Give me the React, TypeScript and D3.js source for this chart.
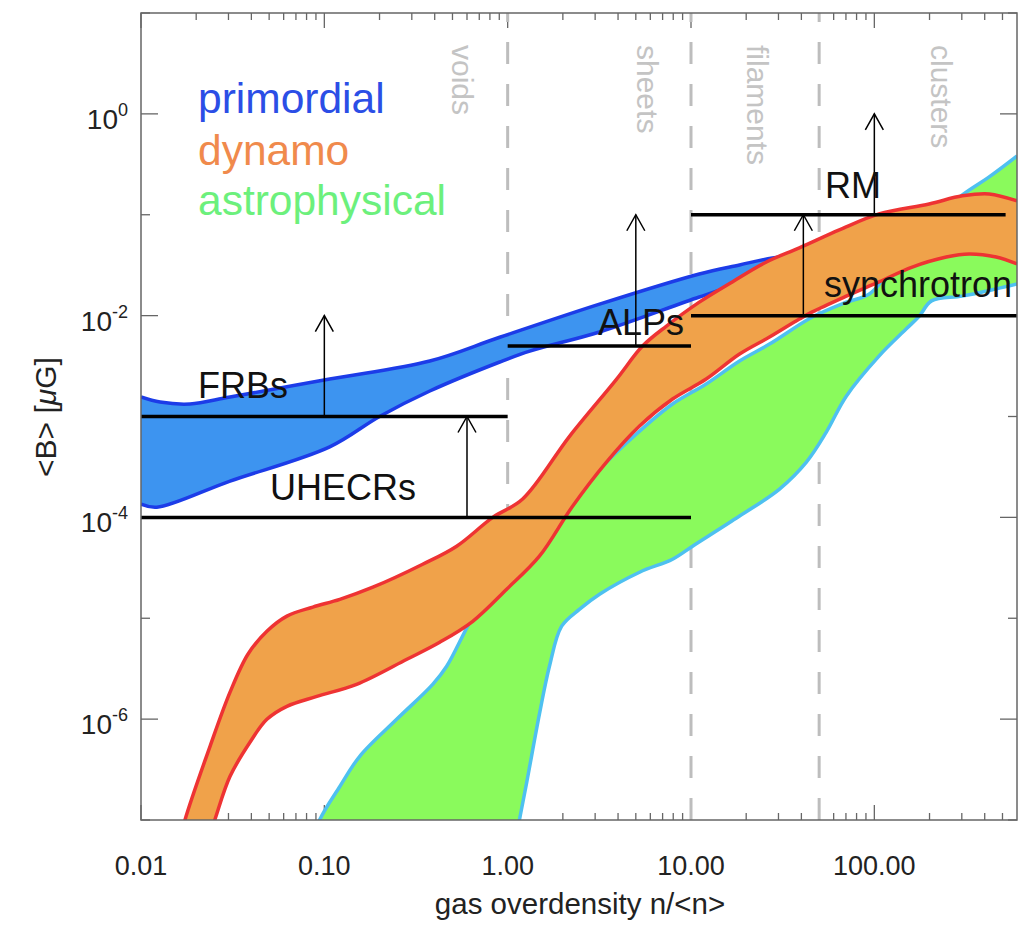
import React from 'react';
import * as d3 from 'd3';

// ---------- data ----------
const xDomain: [number, number] = [0.01, 600];
const yDomain: [number, number] = [1e-7, 10];
const xTickValues = [0.01, 0.1, 1, 10, 100];
const xTickLabels = ['0.01', '0.10', '1.00', '10.00', '100.00'];
const yMajorExps = [0, -2, -4, -6];
const yMinorExps = [1, -1, -3, -5, -7];

const primordialUpperX = [0.01, 0.0127, 0.0185, 0.0306, 0.107, 0.376, 0.905, 3.17, 11.1, 18.4, 27.8, 39];
const primordialUpperY = [1.56e-3, 1.39e-3, 1.33e-3, 1.56e-3, 2.35e-3, 3.55e-3, 6.1e-3, 0.013, 0.0259, 0.0318, 0.0373, 0.0399];
const primordialLowerX = [0.01, 0.0122, 0.0306, 0.107, 0.2, 0.376, 0.905, 1.32, 3.17, 11.1, 18.4, 39];
const primordialLowerY = [1.35e-4, 1.26e-4, 2.29e-4, 5.0e-4, 1.0e-3, 1.79e-3, 3.47e-3, 4.45e-3, 6.88e-3, 0.0153, 0.0206, 0.029];

const dynamoUpperX = [0.0159, 0.0174, 0.0238, 0.0306, 0.0383, 0.0486, 0.0625, 0.0866, 0.1215, 0.184, 0.344, 0.527, 0.829, 1.207, 2.18, 3.93, 5.44, 7.35, 11.1, 16.8, 25.8, 39.0, 64.4, 106, 199, 302, 423, 601];
const dynamoUpperY = [5.1e-8, 1.01e-7, 5.37e-7, 1.85e-6, 4.4e-6, 7.43e-6, 1.05e-5, 1.29e-5, 1.54e-5, 2.03e-5, 3.43e-5, 5.18e-5, 1.0e-4, 1.52e-4, 6.4e-4, 2.35e-3, 4.99e-3, 7.88e-3, 0.0136, 0.0216, 0.034, 0.0469, 0.0707, 0.102, 0.128, 0.154, 0.161, 0.137];
const dynamoLowerX = [0.0223, 0.0253, 0.0306, 0.0393, 0.0486, 0.0625, 0.091, 0.15, 0.282, 0.426, 0.645, 0.988, 1.49, 2.26, 3.46, 5.24, 7.93, 12.1, 18.4, 26.8, 39.0, 45.9, 70.3, 106, 161, 247, 329, 462, 601];
const dynamoLowerY = [5.1e-8, 1.01e-7, 2.71e-7, 5.89e-7, 9.95e-7, 1.34e-6, 1.68e-6, 2.21e-6, 3.92e-6, 5.78e-6, 9.33e-6, 1.94e-5, 4.12e-5, 1.29e-4, 3.53e-4, 8.04e-4, 1.49e-3, 2.35e-3, 4.16e-3, 6.13e-3, 9.25e-3, 0.0109, 0.0156, 0.0216, 0.0303, 0.0381, 0.0409, 0.0381, 0.0325];

const astroUpperX = [0.0834, 0.0945, 0.1215, 0.156, 0.248, 0.39, 0.465, 0.621, 0.798, 1.49, 3.17, 5.24, 7.93, 12.1, 18.4, 26.8, 45.9, 70.3, 93.9, 137, 199, 302, 423, 601];
const astroUpperY = [5.1e-8, 1.01e-7, 2.15e-7, 4.28e-7, 9.95e-7, 2.21e-6, 3.34e-6, 9.12e-6, 1.94e-5, 6.08e-5, 3.01e-4, 7.16e-4, 1.33e-3, 2.1e-3, 3.55e-3, 5.22e-3, 9.69e-3, 0.0136, 0.0164, 0.0365, 0.081, 0.157, 0.237, 0.383];
const astroLowerX = [1.078, 1.16, 1.27, 1.49, 1.69, 1.97, 2.47, 3.17, 5.24, 7.93, 10.2, 18.4, 30.4, 42.6, 54.7, 70.3, 106, 149, 176, 205, 302, 462, 601];
const astroLowerY = [5.1e-8, 1.01e-7, 2.36e-7, 1.12e-6, 3.34e-6, 8.34e-6, 1.23e-5, 1.73e-5, 2.86e-5, 3.85e-5, 5.18e-5, 1.03e-4, 1.91e-4, 3.53e-4, 7.0e-4, 1.59e-3, 3.97e-3, 7.36e-3, 9.9e-3, 0.014, 0.0156, 0.0184, 0.0206];

const limitNames = ['FRBs', 'UHECRs', 'ALPs', 'synchrotron', 'RM'];
const limitY = [1e-3, 1e-4, 5e-3, 1e-2, 0.1];
const limitX0 = [0.01, 0.01, 1, 10, 10];
const limitX1 = [1, 10, 10, 600, 520];
const arrowX = [0.1, 0.6, 5, 41, 100];
const arrowFrom = [1e-3, 1e-4, 5e-3, 1e-2, 0.1];
const arrowTo = [1e-2, 1e-3, 0.1, 0.1, 1];

const regionNames = ['voids', 'sheets', 'filaments', 'clusters'];
const regionBounds = [1, 10, 50];
const legendNames = ['primordial', 'dynamo', 'astrophysical'];

// ---------- layout / style ----------
const W = 1028, H = 927;
const PL = 141, PR = 1017, PT = 13, PB = 820;
const FONT = "'Liberation Sans', Arial, Helvetica, sans-serif";
const limitLabelPos = [[198, 398], [270, 500], [598, 335], [824, 297], [825, 198]];
const regionLabelX = [452, 637, 747, 931];
const legendColors = ['#2b4ee6', '#f08a4c', '#6cf07c'];
const legendBaselines = [113, 165, 215];

export default function App() {
  const x = d3.scaleLog().domain(xDomain).range([PL, PR]);
  const y = d3.scaleLog().domain(yDomain).range([PB, PT]);
  const line = d3
    .line<[number, number]>()
    .x((d) => x(d[0]))
    .y((d) => y(d[1]))
    .curve(d3.curveCatmullRom.alpha(0.5));
  const zip = (xs: number[], ys: number[]): [number, number][] => xs.map((v, i) => [v, ys[i]]);

  const band = (ux: number[], uy: number[], lx: number[], ly: number[]) => {
    const up = zip(ux, uy);
    const lo = zip(lx, ly);
    const upPath = line(up) as string;
    const loPath = line(lo) as string;
    const loRev = line(lo.slice().reverse()) as string;
    return { fill: upPath + 'L' + loRev.substring(1) + 'Z', up: upPath, lo: loPath };
  };

  const blue = band(primordialUpperX, primordialUpperY, primordialLowerX, primordialLowerY);
  const orange = band(dynamoUpperX, dynamoUpperY, dynamoLowerX, dynamoLowerY);
  const green = band(astroUpperX, astroUpperY, astroLowerX, astroLowerY);

  const xMinor: number[] = [];
  [0.01, 0.1, 1, 10, 100].forEach((d) => {
    for (let k = 2; k <= 9; k++) {
      const v = d * k;
      if (v < xDomain[1]) xMinor.push(v);
    }
  });

  const axisColor = '#666';

  return (
    <svg
      width={W}
      height={H}
      style={{ position: 'absolute', left: 0, top: 0, background: '#fff' }}
      fontFamily={FONT}
    >
      <defs>
        <clipPath id="plotClip">
          <rect x={PL} y={PT} width={PR - PL} height={PB - PT} />
        </clipPath>
      </defs>
      <rect x={0} y={0} width={W} height={H} fill="#fff" />

      {/* ticks */}
      <g stroke={axisColor} strokeWidth={1.3}>
        {xTickValues.map((v, i) => (
          <g key={'xm' + i}>
            <line x1={x(v)} x2={x(v)} y1={PB} y2={PB - 15} />
            <line x1={x(v)} x2={x(v)} y1={PT} y2={PT + 15} />
          </g>
        ))}
        {xMinor.map((v, i) => (
          <g key={'xn' + i}>
            <line x1={x(v)} x2={x(v)} y1={PB} y2={PB - 7} />
            <line x1={x(v)} x2={x(v)} y1={PT} y2={PT + 7} />
          </g>
        ))}
        {yMajorExps.map((e, i) => (
          <g key={'ym' + i}>
            <line x1={PL} x2={PL + 17} y1={y(10 ** e)} y2={y(10 ** e)} />
            <line x1={PR} x2={PR - 17} y1={y(10 ** e)} y2={y(10 ** e)} />
          </g>
        ))}
        {yMinorExps.map((e, i) => (
          <g key={'yn' + i}>
            <line x1={PL} x2={PL + 9} y1={y(10 ** e)} y2={y(10 ** e)} />
            <line x1={PR} x2={PR - 9} y1={y(10 ** e)} y2={y(10 ** e)} />
          </g>
        ))}
      </g>

      {/* region dashed lines */}
      <g stroke="#bdbdbd" strokeWidth={3} strokeDasharray="22,20">
        {regionBounds.map((b, i) => (
          <line key={'rb' + i} x1={x(b)} x2={x(b)} y1={PB} y2={PT} />
        ))}
      </g>
      {regionNames.map((n, i) => (
        <text
          key={'rn' + i}
          transform={`translate(${regionLabelX[i]},45) rotate(90)`}
          fontSize={30}
          fill="#c4c4c4"
        >
          {n}
        </text>
      ))}

      {/* bands */}
      <g clipPath="url(#plotClip)">
        <path d={blue.fill} fill="#3d94f0" />
        <path d={blue.up} fill="none" stroke="#1c3ce8" strokeWidth={3.5} />
        <path d={blue.lo} fill="none" stroke="#1c3ce8" strokeWidth={3.5} />
        <path d={green.fill} fill="#8afa5c" />
        <path d={green.up} fill="none" stroke="#4ec0f0" strokeWidth={3.5} />
        <path d={green.lo} fill="none" stroke="#4ec0f0" strokeWidth={3.5} />
        <path d={orange.fill} fill="#f0a24a" />
        <path d={orange.up} fill="none" stroke="#ee3333" strokeWidth={3.5} />
        <path d={orange.lo} fill="none" stroke="#ee3333" strokeWidth={3.5} />
      </g>

      {/* limits */}
      <g clipPath="url(#plotClip)">
        {limitNames.map((n, i) => (
          <line
            key={'ll' + i}
            x1={x(limitX0[i])}
            x2={x(limitX1[i])}
            y1={y(limitY[i])}
            y2={y(limitY[i])}
            stroke="#000"
            strokeWidth={3.5}
          />
        ))}
      </g>
      {arrowX.map((ax, i) => {
        const px = x(ax);
        const y0 = y(arrowFrom[i]);
        const y1 = y(arrowTo[i]);
        return (
          <g key={'ar' + i} stroke="#000" strokeWidth={1.5} fill="none">
            <line x1={px} x2={px} y1={y0} y2={y1} />
            <polyline points={`${px - 9},${y1 + 16} ${px},${y1} ${px + 9},${y1 + 16}`} />
          </g>
        );
      })}
      {limitNames.map((n, i) => (
        <text key={'lt' + i} x={limitLabelPos[i][0]} y={limitLabelPos[i][1]} fontSize={36} fill="#111">
          {n}
        </text>
      ))}

      {/* legend */}
      {legendNames.map((n, i) => (
        <text key={'lg' + i} x={198} y={legendBaselines[i]} fontSize={42.5} fill={legendColors[i]}>
          {n}
        </text>
      ))}

      {/* frame */}
      <rect x={PL} y={PT} width={PR - PL} height={PB - PT} fill="none" stroke={axisColor} strokeWidth={1.5} />

      {/* tick labels */}
      {xTickValues.map((v, i) => (
        <text key={'xl' + i} x={x(v)} y={875} textAnchor="middle" fontSize={27} fill="#222">
          {xTickLabels[i]}
        </text>
      ))}
      {yMajorExps.map((e, i) => (
        <text key={'yl' + i} x={128} y={y(10 ** e) + 15} textAnchor="end" fontSize={28} fill="#222">
          10
          <tspan dy={-13} fontSize={18}>
            {String(e)}
          </tspan>
        </text>
      ))}

      {/* axis titles */}
      <text x={580} y={914} textAnchor="middle" fontSize={29.5} fill="#222">
        gas overdensity n/&lt;n&gt;
      </text>
      <text
        transform="translate(56,417) rotate(-90)"
        textAnchor="middle"
        fontSize={30}
        fill="#222"
      >
        &lt;B&gt; [<tspan fontStyle="italic">μ</tspan>G]
      </text>
    </svg>
  );
}
